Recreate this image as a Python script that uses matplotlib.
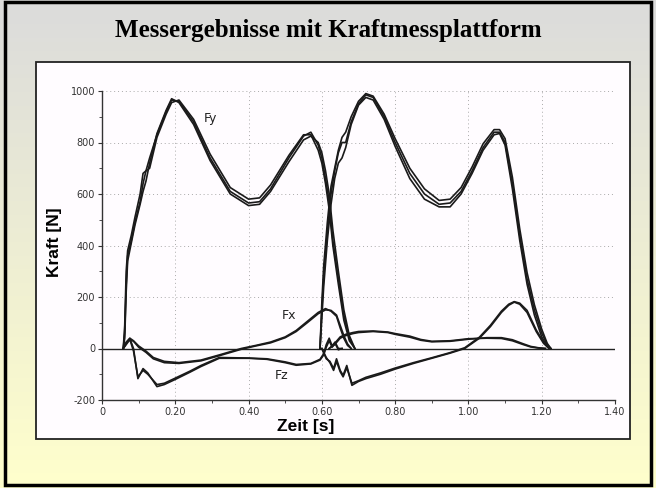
import numpy as np
import matplotlib.pyplot as plt
from matplotlib.patches import Rectangle

# ---- data ----
T_FY1 = [0.058, 0.062, 0.066, 0.070, 0.080, 0.090, 0.104, 0.112, 0.120, 0.130, 0.150, 0.175,
         0.190, 0.210, 0.250, 0.295, 0.350, 0.400, 0.430, 0.460, 0.510, 0.550, 0.570, 0.590,
         0.600, 0.610, 0.620, 0.630, 0.645, 0.660, 0.675, 0.690]
FY1_A = [0, 60, 250, 360, 420, 490, 570, 640, 690, 740, 830, 920, 965, 960, 880, 740, 610, 565,
         570, 620, 740, 825, 840, 790, 740, 660, 570, 420, 270, 130, 40, 0]
FY1_B = [0, 90, 300, 380, 440, 510, 600, 680, 690, 700, 820, 910, 955, 965, 890, 755, 625, 580,
         585, 635, 750, 830, 830, 770, 720, 640, 540, 400, 250, 110, 30, 0]
FY1_C = [0, 40, 220, 340, 410, 480, 560, 610, 650, 720, 835, 925, 970, 955, 870, 730, 600, 555,
         560, 610, 725, 810, 825, 800, 760, 690, 600, 460, 300, 150, 50, 0]

T_FY2 = [0.595, 0.600, 0.605, 0.615, 0.625, 0.635, 0.645, 0.655, 0.665, 0.680, 0.700, 0.720,
         0.740, 0.770, 0.800, 0.840, 0.880, 0.920, 0.950, 0.980, 1.010, 1.040, 1.070, 1.085,
         1.100, 1.120, 1.140, 1.160, 1.180, 1.200, 1.215, 1.225]
FY2_A = [0, 150, 280, 450, 600, 690, 760, 800, 800, 880, 950, 985, 975, 900, 800, 680, 600, 560,
         565, 610, 690, 780, 840, 840, 800, 640, 440, 270, 150, 60, 15, 0]
FY2_B = [0, 120, 240, 420, 560, 660, 720, 740, 780, 870, 945, 975, 965, 890, 785, 660, 580, 550,
         550, 600, 680, 770, 830, 835, 790, 620, 420, 250, 130, 45, 10, 0]
FY2_C = [0, 180, 320, 490, 630, 700, 770, 820, 840, 900, 960, 990, 980, 910, 815, 700, 620, 575,
         580, 625, 705, 795, 850, 850, 815, 665, 465, 295, 170, 75, 20, 0]

T_FX1 = [0.058, 0.066, 0.076, 0.086, 0.100, 0.120, 0.140, 0.170, 0.210, 0.270, 0.320, 0.380,
         0.420, 0.460, 0.500, 0.530, 0.560, 0.590, 0.610, 0.625, 0.640, 0.650, 0.660, 0.670, 0.680]
FX1_A = [0, 25, 40, 30, 10, -10, -35, -50, -55, -45, -25, 0, 12, 25, 45, 70, 105, 140, 155, 145,
         125, 80, 40, 12, 0]
FX1_B = [0, 20, 35, 28, 5, -15, -40, -55, -58, -48, -28, -3, 10, 22, 42, 66, 100, 135, 150, 148,
         130, 90, 50, 18, 0]

T_FZ1 = [0.058, 0.066, 0.076, 0.086, 0.098, 0.112, 0.125, 0.150, 0.170, 0.200, 0.240, 0.270,
         0.320, 0.360, 0.400, 0.450, 0.500, 0.530, 0.570, 0.595, 0.605, 0.612, 0.620, 0.628, 0.636,
         0.645, 0.655]
FZ1_A = [0, 20, 39, 0, -117, -78, -95, -148, -140, -120, -92, -70, -38, -38, -38, -42, -55, -65,
         -60, -45, -25, 5, 30, 5, 20, -5, 0]
FZ1_B = [0, 15, 35, -10, -110, -85, -100, -140, -135, -115, -88, -66, -35, -36, -37, -40, -52,
         -62, -58, -42, -20, 15, 40, 10, 25, 0, 0]

T_FX2 = [0.600, 0.612, 0.622, 0.632, 0.640, 0.650, 0.658, 0.668, 0.682, 0.700, 0.720, 0.760,
         0.800, 0.850, 0.900, 0.950, 0.990, 1.030, 1.060, 1.090, 1.110, 1.125, 1.140, 1.160,
         1.185, 1.205, 1.220]
FX2_A = [0, -40, -50, -78, -40, -85, -104, -66, -143, -128, -117, -100, -80, -58, -38, -18, 0, 40,
         85, 140, 168, 180, 172, 140, 66, 20, 0]
FX2_B = [0, -35, -55, -85, -50, -90, -110, -75, -135, -125, -112, -95, -76, -55, -36, -16, 3, 44,
         90, 145, 172, 182, 176, 148, 72, 25, 0]

T_FZ2 = [0.620, 0.635, 0.650, 0.665, 0.685, 0.700, 0.740, 0.780, 0.800, 0.840, 0.870, 0.900,
         0.950, 1.000, 1.050, 1.090, 1.120, 1.150, 1.170, 1.190, 1.210]
FZ2_A = [0, 20, 45, 55, 62, 66, 68, 64, 58, 48, 35, 28, 30, 38, 40, 39, 30, 15, 6, 2, 0]
FZ2_B = [0, 15, 40, 50, 58, 62, 66, 62, 55, 44, 32, 26, 28, 36, 42, 42, 34, 18, 8, 3, 0]

X_TICKS = [0, 0.2, 0.4, 0.6, 0.8, 1.0, 1.2, 1.4]
X_LABELS = ['0', '0.20', '0.40', '0.60', '0.80', '1.00', '1.20', '1.40']
Y_TICKS = [-200, 0, 200, 400, 600, 800, 1000]
Y_LABELS = ['-200', '0', '200', '400', '600', '800', '1000']

W, H = 656, 488
fig = plt.figure(figsize=(W / 100, H / 100), dpi=100)

# background: grey at top fading to pale yellow, plus slide frame and white panel
bg = fig.add_axes([0, 0, 1, 1])
top = np.array([0.86, 0.86, 0.86])
bottom = np.array([1.0, 1.0, 0.80])
f = np.linspace(0, 1, 256)[:, None]
grad = top * (1 - f) + bottom * f
bg.imshow(np.repeat(grad[:, None, :], 2, axis=1), aspect='auto', extent=[0, 1, 0, 1])
bg.set_xlim(0, 1)
bg.set_ylim(0, 1)
bg.axis('off')


def px_rect(x0, y0, x1, y1, **kw):
    return Rectangle((x0 / W, 1 - y1 / H), (x1 - x0) / W, (y1 - y0) / H, **kw)


bg.add_patch(px_rect(5, 2, 651, 485, fill=False, edgecolor='black', linewidth=2.5))
bg.add_patch(px_rect(36, 62, 630, 439, facecolor='#fffcff', edgecolor='#222222', linewidth=1.3))

bg.text(0.5, 1 - 31 / H, 'Messergebnisse mit Kraftmessplattform', ha='center', va='center',
        fontsize=18, fontweight='bold', family='Liberation Serif')

ax = fig.add_axes([102 / W, 1 - 400 / H, 513 / W, 309 / H])
ax.set_facecolor('none')

for x in X_TICKS[1:]:
    ax.axvline(x, color='#aaaaaa', linewidth=0.7, linestyle=(0, (1, 3)), zorder=1)
for y in Y_TICKS[2:]:
    ax.axhline(y, color='#aaaaaa', linewidth=0.7, linestyle=(0, (1, 3)), zorder=1)
ax.plot([0, 1.4], [0, 0], color='#222222', linewidth=1.0, zorder=2)

lw = 1.2
for vals in (FY1_A, FY1_B, FY1_C):
    ax.plot(T_FY1, vals, color='#1a1a1a', linewidth=lw, zorder=3)
for vals in (FY2_A, FY2_B, FY2_C):
    ax.plot(T_FY2, vals, color='#1a1a1a', linewidth=lw, zorder=3)
for vals in (FX1_A, FX1_B):
    ax.plot(T_FX1, vals, color='#1a1a1a', linewidth=lw, zorder=3)
for vals in (FZ1_A, FZ1_B):
    ax.plot(T_FZ1, vals, color='#1a1a1a', linewidth=lw, zorder=3)
for vals in (FX2_A, FX2_B):
    ax.plot(T_FX2, vals, color='#1a1a1a', linewidth=lw, zorder=3)
for vals in (FZ2_A, FZ2_B):
    ax.plot(T_FZ2, vals, color='#1a1a1a', linewidth=lw, zorder=3)

ax.text(0.295, 893, 'Fy', fontsize=9, color='#222222', ha='center', va='center')
ax.text(0.51, 128, 'Fx', fontsize=9, color='#222222', ha='center', va='center')
ax.text(0.49, -105, 'Fz', fontsize=9, color='#222222', ha='center', va='center')

ax.set_xlim(0, 1.4)
ax.set_ylim(-200, 1000)
ax.set_xticks(X_TICKS)
ax.set_xticklabels(X_LABELS)
ax.set_yticks(Y_TICKS)
ax.set_yticklabels(Y_LABELS)
ax.set_xticks(np.arange(0.1, 1.4, 0.2), minor=True)
ax.set_yticks(np.arange(-100, 1000, 200), minor=True)
ax.tick_params(labelsize=7, colors='#333333', length=3, width=0.8, pad=2)
ax.tick_params(which='minor', length=2, width=0.6, colors='#333333')
for side in ('top', 'right'):
    ax.spines[side].set_visible(False)
for side in ('left', 'bottom'):
    ax.spines[side].set_color('#333333')
    ax.spines[side].set_linewidth(1.0)

ax.set_xlabel('Zeit [s]', fontsize=12.5, fontweight='bold', family='Liberation Sans')
ax.xaxis.set_label_coords((306 - 102) / 513, -(427 - 400) / 309)
ax.xaxis.label.set_va('center')
ax.set_ylabel('Kraft [N]', fontsize=12.5, fontweight='bold', family='Liberation Sans')
ax.yaxis.set_label_coords((55 - 102) / 513, (400 - 242) / 309)
ax.yaxis.label.set_va('center')

fig.savefig('out.png', dpi=100)
